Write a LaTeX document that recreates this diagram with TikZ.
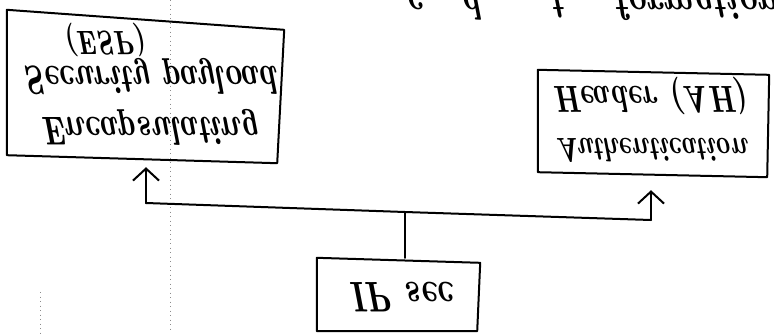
\documentclass[tikz,border=0pt]{standalone}
\usepackage{fontspec}
\usetikzlibrary{arrows.meta,calc}
\newcommand\hfs[1]{\bfseries\itshape\fontsize{#1}{#1}\selectfont}
\begin{document}
\begin{tikzpicture}[x=1pt,y=-1pt,
  hand/.style={line width=2pt, line cap=round, line join=round},
  boxnode/.style={rectangle, inner sep=0pt, draw=none},
  txt/.style={yscale=-1.3, anchor=base west, inner sep=0pt},
  arr/.style={hand, -{Straight Barb[length=12pt,width=26pt,line width=2pt]}},
  scan/.style={black!45, line width=0.9pt, dash pattern=on 1pt off 3.5pt}]
\useasboundingbox (0,0) rectangle (774,333);
\fill[white] (0,0) rectangle (774,333);
% faint scan fold lines
\draw[scan] (170,0) -- (170,333);
\draw[scan] (40,292) -- (40,333);
% top cut-off handwriting
\begin{scope}
\clip (0,0) rectangle (774,333);
\node[txt, font=\hfs{33}] (toptext) at (405,-10) {c\hspace{38pt}d\hspace{70pt}t\hspace{50pt}formation};
\end{scope}
% boxes
\node[boxnode, minimum width=277pt, minimum height=153pt] (esp) at (145.5,86.5) {};
\draw[hand] (esp.north west) -- ([yshift=-20pt]esp.north east) -- ([xshift=-7pt]esp.south east) -- ([yshift=8pt]esp.south west) -- cycle;
\node[boxnode, minimum width=231pt, minimum height=107pt] (ah) at (653.5,123.5) {};
\draw[hand] (ah.north west) -- ([yshift=-5pt]ah.north east) -- ([xshift=-2pt]ah.south east) -- ([yshift=5pt]ah.south west) -- cycle;
\node[boxnode, minimum width=163pt, minimum height=73pt] (ip) at (398.5,294.5) {};
\draw[hand] (ip.north west) -- ([yshift=-5pt]ip.north east) -- ([xshift=-3pt]ip.south east) -- (ip.south west) -- cycle;
% texts (mirrored)
\node[txt, font=\hfs{31}] (esp1) at (40,117) {Encapsulating};
\node[txt, font=\hfs{31}] (esp2) at (22,66) {Security payload};
\node[txt, font=\hfs{26}] (esp3) at (63,31) {(ESP)};
\node[txt, font=\hfs{26}] (ah1) at (555,138) {Authentication};
\node[txt, font=\hfs{29}] (ah2) at (552,86) {Header (AH)};
\node[txt, font=\hfs{33}] (ip1) at (348,282) {IP\hspace{14pt}sec};
% connectors
\coordinate (jl) at (146,203);
\coordinate (jm) at (405,212);
\coordinate (jr) at (651,220);
\draw[hand] (jl) -- (jm) -- (jr);
\draw[hand] (jm) -- (jm |- ip.north);
\draw[arr] (jl) -- ($(jl |- esp.south)+(0,-4pt)$);
\draw[arr] (jr) -- ($(jr |- ah.south)+(0,-13pt)$);
\end{tikzpicture}
\end{document}
